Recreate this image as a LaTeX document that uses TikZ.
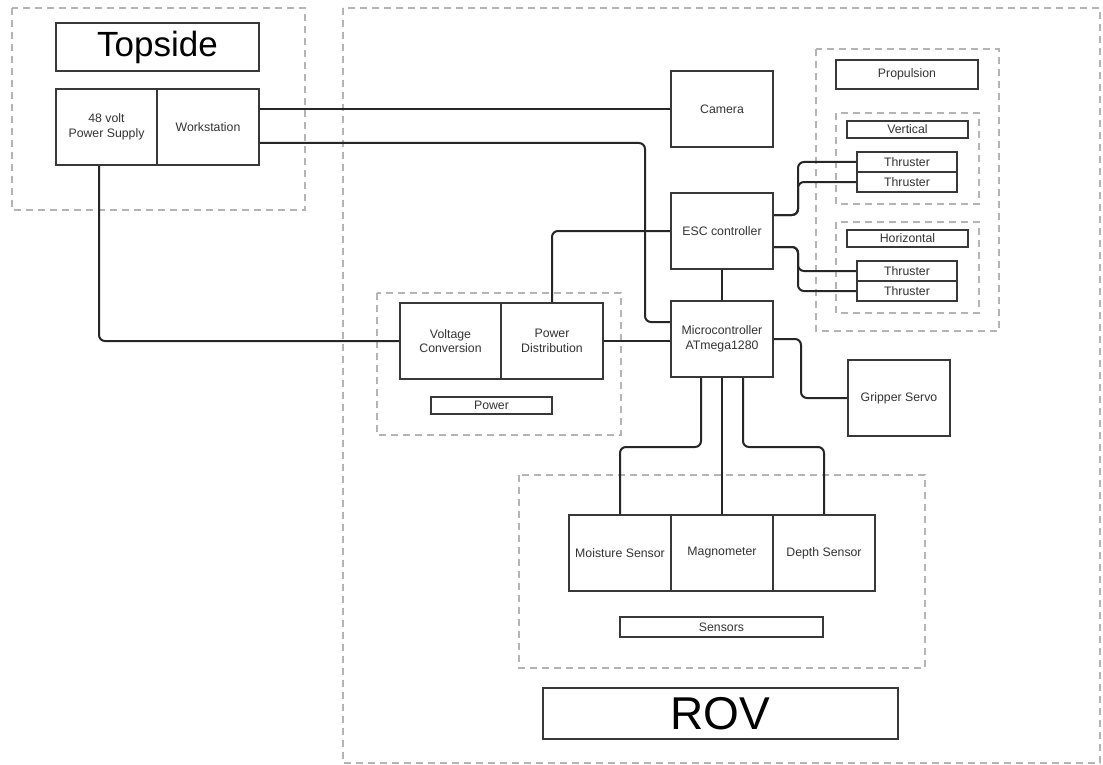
\documentclass[tikz,border=0pt]{standalone}
\usepackage{fontspec}
\setmainfont{Liberation Sans}
\usetikzlibrary{backgrounds}
\definecolor{boxline}{HTML}{383838}
\definecolor{connline}{HTML}{262626}
\definecolor{dashline}{HTML}{B4B4B4}
\definecolor{txt}{HTML}{333333}
\begin{document}
\begin{tikzpicture}[x=1pt,y=-1pt,
  blk/.style={draw=boxline, line width=2pt, fill=white, inner sep=0pt, align=center,
    font=\fontsize{12.3}{14.5}\selectfont, text=txt, minimum width=102pt, minimum height=76pt},
  lbl/.style={draw=boxline, line width=2pt, fill=white, inner sep=0pt, align=center,
    font=\fontsize{12.3}{14.5}\selectfont, text=txt},
  grp/.style={draw=dashline, line width=1.3pt, dash pattern=on 7pt off 5pt},
  conn/.style={draw=connline, line width=2pt, rounded corners=6pt}
]
\useasboundingbox (0,0) rectangle (1103,765);

% nodes
\node[lbl, minimum width=203pt, minimum height=48pt, font=\fontsize{35}{40}\selectfont, text=black] (topside) at (157.5,47) {Topside};
\node[blk, minimum width=101pt] (psu) at (106.5,127) {48 volt\\Power Supply};
\node[blk] (ws) at (208,127) {Workstation};

\node[blk] (camera) at (722,109) {Camera};
\node[blk] (esc) at (722,231) {ESC controller};
\node[blk] (mcu) at (722,339) {Microcontroller\\ATmega1280};
\node[blk] (gripper) at (899,398) {Gripper Servo};

\node[blk, minimum width=101pt] (vc) at (450.5,341) {Voltage\\Conversion};
\node[blk] (pd) at (552,341) {Power\\Distribution};
\node[lbl, minimum width=121pt, minimum height=17pt] (powerlbl) at (491.5,405.5) {Power};

\node[blk] (moist) at (620,553) {Moisture Sensor};
\node[blk] (mag) at (722,553) {Magnometer};
\node[blk] (depth) at (824,553) {Depth Sensor};
\node[lbl, minimum width=203pt, minimum height=20pt] (senslbl) at (721.5,627) {Sensors};

\node[lbl, minimum width=355pt, minimum height=51pt, font=\fontsize{46}{50}\selectfont, text=black] (rov) at (720.5,713.5) {ROV};

\node[lbl, minimum width=142pt, minimum height=29pt] (proplbl) at (907,74.5) {Propulsion};
\node[lbl, minimum width=121pt, minimum height=17pt] (vertlbl) at (907.5,129.5) {Vertical};
\node[lbl, minimum width=121pt, minimum height=17pt] (horlbl) at (907.5,238.5) {Horizontal};
\node[lbl, minimum width=100pt, minimum height=20pt] (t1) at (907,162) {Thruster};
\node[lbl, minimum width=100pt, minimum height=20pt] (t2) at (907,182) {Thruster};
\node[lbl, minimum width=100pt, minimum height=20pt] (t3) at (907,271) {Thruster};
\node[lbl, minimum width=100pt, minimum height=20pt] (t4) at (907,291) {Thruster};

\begin{pgfonlayer}{background}
\fill[white] (0,0) rectangle (1103,765);
% groups
\draw[grp] (12,8) rectangle (305,210);
\draw[grp] (343,8) rectangle (1100,763);
\draw[grp] (377,293) rectangle (621,435);
\draw[grp] (519,475) rectangle (925,668);
\draw[grp] (816,49) rectangle (999,331);
\draw[grp] (836,113) rectangle (979,204);
\draw[grp] (836,222) rectangle (979,313);
% connectors
\draw[conn] (ws.east |- camera.west) -- (camera.west);
\draw[conn] ([yshift=-16pt]ws.east) -| ([xshift=-25pt,yshift=17pt]mcu.west) -- ([yshift=17pt]mcu.west);
\draw[conn] ([xshift=-7.5pt]psu.south) |- (vc.west);
\draw[conn] (pd.north) |- (esc.west);
\draw[conn] (pd.east) -- (pd.east -| mcu.west);
\draw[conn] (esc.south) -- (mcu.north);
\draw[conn] ([yshift=16pt]esc.east) -- ++(24,0) |- (t1.west);
\draw[conn] ([yshift=16pt]esc.east) -- ++(24,0) |- (t2.west);
\draw[conn] ([yshift=-16pt]esc.east) -- ++(24,0) |- (t3.west);
\draw[conn] ([yshift=-16pt]esc.east) -- ++(24,0) |- (t4.west);
\draw[conn] (mcu.east) -- ++(27,0) |- (gripper.west);
\draw[conn] ([xshift=-21pt]mcu.south) -- ++(0,69) -| (moist.north);
\draw[conn] (mcu.south) -- (mag.north);
\draw[conn] ([xshift=21pt]mcu.south) -- ++(0,69) -| (depth.north);
\end{pgfonlayer}
\end{tikzpicture}
\end{document}
